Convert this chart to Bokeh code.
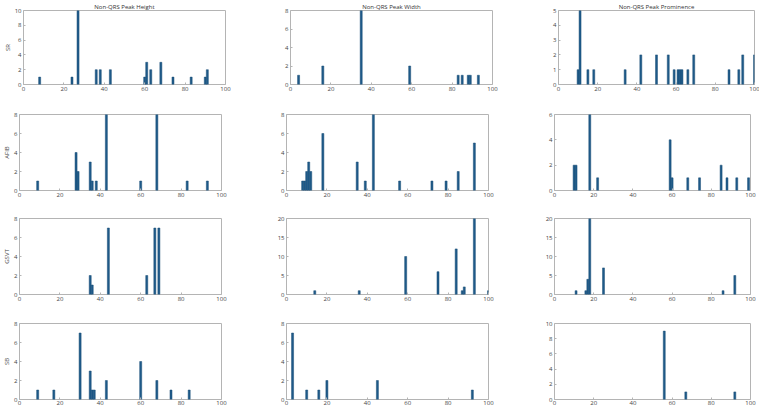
from bokeh.plotting import figure
from bokeh.layouts import column, row
from bokeh.models import FixedTicker, Range1d
from bokeh.embed import file_html
from bokeh.resources import INLINE

rhythms = ["SR", "AFIB", "GSVT", "SB"]
features = ["Non-QRS Peak Height", "Non-QRS Peak Width", "Non-QRS Peak Prominence"]

# SR
sr_height_x = [8, 24, 27, 36, 38, 43, 60, 61, 63, 68, 74, 83, 90, 91]
sr_height_n = [1, 1, 10, 2, 2, 2, 1, 3, 2, 3, 1, 1, 1, 2]
sr_width_x = [4, 16, 35, 59, 83, 85, 88, 89, 93]
sr_width_n = [1, 2, 8, 2, 1, 1, 1, 1, 1]
sr_prom_x = [10, 11, 15, 18, 34, 42, 50, 56, 59, 61, 62, 63, 66, 69, 87, 92, 94, 100]
sr_prom_n = [1, 5, 1, 1, 1, 2, 2, 2, 1, 1, 1, 1, 1, 2, 1, 1, 2, 2]

# AFIB
afib_height_x = [9, 28, 29, 35, 36, 38, 43, 60, 68, 83, 93]
afib_height_n = [1, 4, 2, 3, 1, 1, 8, 1, 8, 1, 1]
afib_width_x = [8, 9, 10, 11, 12, 18, 35, 39, 43, 56, 72, 79, 85, 93]
afib_width_n = [1, 1, 2, 3, 2, 6, 3, 1, 8, 1, 1, 1, 2, 5]
afib_prom_x = [10, 11, 18, 22, 59, 60, 68, 74, 85, 88, 93, 99]
afib_prom_n = [2, 2, 6, 1, 4, 1, 1, 1, 2, 1, 1, 1]

# GSVT
gsvt_height_x = [35, 36, 44, 63, 67, 69]
gsvt_height_n = [2, 1, 7, 2, 7, 7]
gsvt_width_x = [14, 36, 59, 75, 84, 87, 88, 93, 100]
gsvt_width_n = [1, 1, 10, 6, 12, 1, 2, 20, 1]
gsvt_prom_x = [11, 16, 17, 18, 25, 86, 92]
gsvt_prom_n = [1, 1, 4, 20, 7, 1, 5]

# SB
sb_height_x = [9, 17, 30, 35, 36, 37, 43, 60, 68, 75, 84]
sb_height_n = [1, 1, 7, 3, 1, 1, 2, 4, 2, 1, 1]
sb_width_x = [3, 10, 16, 20, 45, 92]
sb_width_n = [7, 1, 1, 2, 2, 1]
sb_prom_x = [56, 67, 92]
sb_prom_n = [9, 1, 1]

x_ticks = [0, 20, 40, 60, 80, 100]

panels = [
    [(sr_height_x, sr_height_n, 10, 2), (sr_width_x, sr_width_n, 8, 2), (sr_prom_x, sr_prom_n, 5, 1)],
    [(afib_height_x, afib_height_n, 8, 2), (afib_width_x, afib_width_n, 8, 2), (afib_prom_x, afib_prom_n, 6, 2)],
    [(gsvt_height_x, gsvt_height_n, 8, 2), (gsvt_width_x, gsvt_width_n, 20, 5), (gsvt_prom_x, gsvt_prom_n, 20, 5)],
    [(sb_height_x, sb_height_n, 8, 2), (sb_width_x, sb_width_n, 8, 2), (sb_prom_x, sb_prom_n, 10, 2)],
]

BAR = "#1f5b8a"
EDGE = "#184c75"
GRAY = "#b4b4b4"
TXT = "#444444"
FONT = "Open Sans"
FS = "6px"

row_borders = [(9, 23), (7, 22), (6, 23), (6, 9)]
row_frames = [74, 76, 76, 76]
col_borders = [(18, 48), (17, 49), (17, 10)]
col_frames = [202, 202, 196]


def style_axis(ax, standoff=2):
    ax.major_tick_in = 2
    ax.major_tick_out = 0
    ax.minor_tick_in = 0
    ax.minor_tick_out = 0
    ax.axis_line_color = None
    ax.major_tick_line_color = GRAY
    ax.major_label_text_font = FONT
    ax.major_label_text_color = TXT
    ax.major_label_text_font_size = FS
    ax.major_label_standoff = standoff


rows = []
for r in range(4):
    figs = []
    for c in range(3):
        xs, ns, ymax, ystep = panels[r][c]
        bt, bb = row_borders[r]
        bl, br = col_borders[c]
        p = figure(frame_width=col_frames[c], frame_height=row_frames[r],
                   x_range=Range1d(0, 100), y_range=Range1d(0, ymax),
                   output_backend="svg", toolbar_location=None,
                   min_border_left=bl, min_border_right=br,
                   min_border_top=bt, min_border_bottom=bb)
        p.vbar(x=xs, top=ns, bottom=0, width=1.0,
               fill_color=BAR, line_color=EDGE, line_width=0.5)
        p.xgrid.visible = False
        p.ygrid.visible = False
        p.outline_line_color = GRAY
        p.outline_line_width = 1
        yt = list(range(0, ymax + 1, ystep))
        p.xaxis.ticker = FixedTicker(ticks=x_ticks)
        p.yaxis.ticker = FixedTicker(ticks=yt)
        style_axis(p.xaxis[0], standoff=1 if r == 3 else 2)
        style_axis(p.yaxis[0])
        if c == 0:
            p.yaxis[0].axis_label = rhythms[r]
            p.yaxis[0].axis_label_text_font = FONT
            p.yaxis[0].axis_label_text_font_size = FS
            p.yaxis[0].axis_label_text_font_style = "normal"
            p.yaxis[0].axis_label_text_color = TXT
            p.yaxis[0].axis_label_standoff = 0
        if r == 0:
            p.title.text = features[c]
            p.title.align = "center"
            p.title.text_font = FONT
            p.title.text_font_size = FS
            p.title.text_font_style = "normal"
            p.title.text_color = "#333333"
            p.title.standoff = 0
        figs.append(p)
    rows.append(row(*figs, spacing=0))

layout = column(*rows, spacing=0)

open("out.html", "w").write(file_html(layout, INLINE))
